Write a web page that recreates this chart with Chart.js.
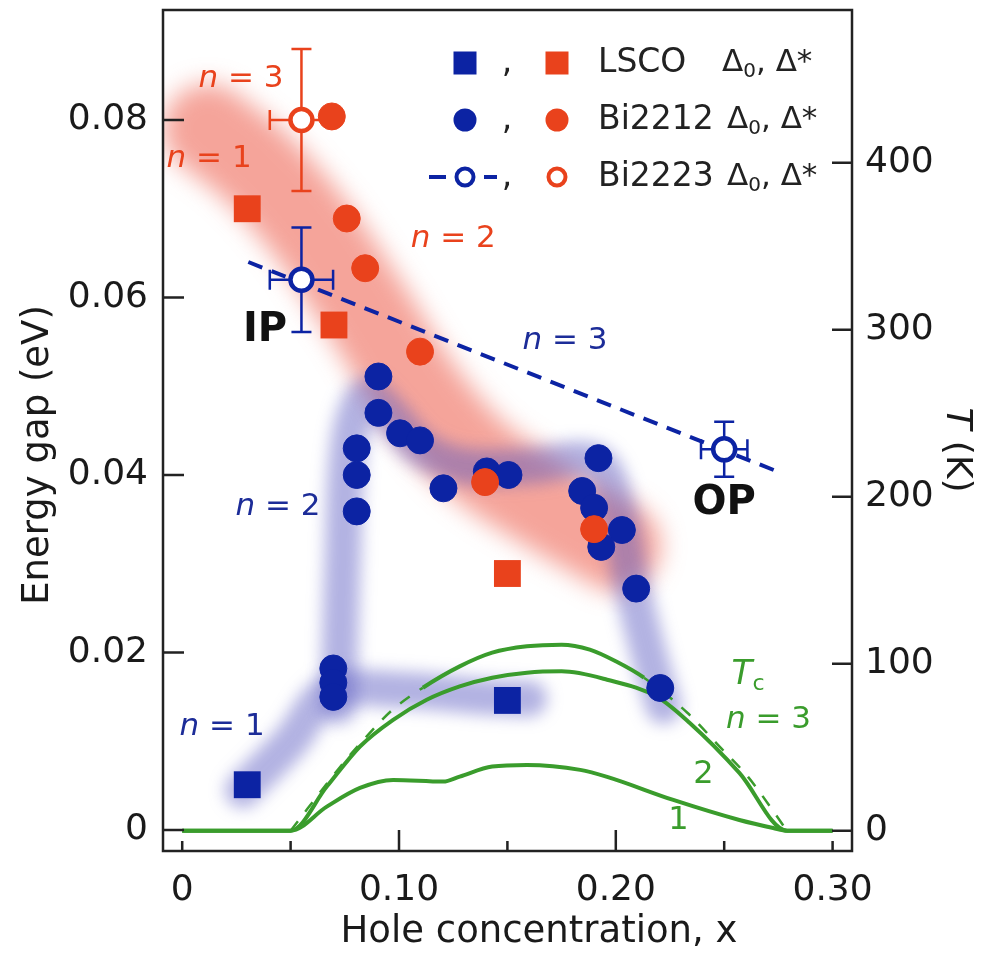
<!DOCTYPE html>
<html>
<head>
<meta charset="utf-8">
<title>Energy gap vs hole concentration</title>
<script src="https://cdn.jsdelivr.net/npm/chart.js@4.4.1/dist/chart.umd.min.js"></script>
<style>
  html, body { margin: 0; padding: 0; background: #fff; }
  #grafica { display: block; }
</style>
</head>
<body>
<canvas id="grafica" width="985" height="954"></canvas>
<script>
// --- Ticks ---
const xTicks = [0, 0.10, 0.20, 0.30];
const xMinorTicks = [0.05, 0.15, 0.25];
const gapTicks = [0, 0.02, 0.04, 0.06, 0.08];
const tempTicks = [0, 100, 200, 300, 400];

// --- LSCO (cuadrados) ---
const lscoGapX = [0.030, 0.150];
const lscoGapY = [0.0051, 0.0146];
const lscoStarX = [0.030, 0.070, 0.150];
const lscoStarY = [0.0700, 0.0569, 0.0289];

// --- Bi2212 (circulos llenos) ---
const bi2212GapX = [0.0697, 0.0697, 0.0697, 0.0805, 0.0805, 0.0805, 0.0905, 0.0905, 0.1005, 0.1097,
                    0.1205, 0.1405, 0.1505, 0.1845, 0.1900, 0.1920, 0.1933, 0.2028, 0.2094, 0.2205];
const bi2212GapY = [0.0182, 0.0166, 0.0150, 0.0430, 0.0400, 0.0359, 0.0511, 0.0470, 0.0447, 0.0439,
                    0.0385, 0.0404, 0.0400, 0.0382, 0.0363, 0.0419, 0.0319, 0.0338, 0.0272, 0.0160];
const bi2212StarX = [0.0690, 0.0759, 0.0844, 0.1097, 0.1397, 0.1900];
const bi2212StarY = [0.0804, 0.0689, 0.0633, 0.0539, 0.0392, 0.0339];

// --- Bi2223 (circulos abiertos, con error) ---
const bi2223GapX = [0.055, 0.250];
const bi2223GapY = [0.0620, 0.0429];
const bi2223GapErrX = [0.0146, 0.0107];
const bi2223GapErrY = [0.0059, 0.0031];
const bi2223StarX = [0.055];
const bi2223StarY = [0.0800];
const bi2223StarErrX = [0.0146];
const bi2223StarErrY = [0.0080];

// --- Tendencia Delta0, n = 3 (linea discontinua) ---
const trendX = [0.0305, 0.2745];
const trendY = [0.0640, 0.0404];

// --- Tc (K), eje derecho ---
const tc1X = [0, 0.050, 0.0667, 0.082, 0.0973, 0.1204, 0.128, 0.143, 0.159, 0.1836, 0.196, 0.2265, 0.257, 0.2726, 0.279, 0.300];
const tc1T = [0, 0, 14.4, 25.6, 30.4, 29.4, 32.4, 38.4, 39.4, 36.4, 32.2, 18.4, 6.4, 1.6, 0, 0];
const tc2X = [0, 0.050, 0.0667, 0.082, 0.0973, 0.1128, 0.128, 0.143, 0.159, 0.175, 0.196, 0.219, 0.234, 0.257, 0.279, 0.300];
const tc2T = [0, 0, 26.4, 50.4, 66.4, 78.4, 86.4, 91.6, 94.6, 95.4, 90.4, 80.2, 64.6, 34.6, 0, 0];
const tc3X = [0.050, 0.073, 0.085, 0.097, 0.111, 0.128, 0.143, 0.159, 0.175, 0.188, 0.200, 0.213, 0.233, 0.248, 0.261, 0.279];
const tc3T = [0, 38.4, 56.4, 72.4, 85.6, 98.4, 106.6, 110.4, 111.4, 108.4, 101.4, 91.6, 70.6, 50.2, 32.2, 0];

// --- Bandas difusas (guias) ---
const bandStarX = [0.012, 0.035, 0.060, 0.085, 0.110, 0.135, 0.165, 0.200];
const bandStarY = [0.0790, 0.0745, 0.0675, 0.0585, 0.0490, 0.0420, 0.0370, 0.0320];
const bandGap1X = [0.028, 0.050, 0.068, 0.100, 0.140, 0.160];
const bandGap1Y = [0.0045, 0.0100, 0.0155, 0.0158, 0.0150, 0.0148];
const bandGap2X = [0.072, 0.074, 0.077, 0.085, 0.095, 0.110, 0.130, 0.160, 0.190, 0.200, 0.207, 0.215, 0.222];
const bandGap2Y = [0.0140, 0.0300, 0.0440, 0.0490, 0.0470, 0.0430, 0.0410, 0.0410, 0.0415, 0.0370, 0.0280, 0.0200, 0.0140];

// Colores
const AZUL = '#0c23a3';
const ROJO = '#e9421c';
const VERDE = '#3a9c2c';
const FUENTE = '"DejaVu Sans"';

const pts = (xs, ys) => xs.map((x, i) => ({ x: x, y: ys[i] }));
const fmt = v => v === 0 ? '0' : v.toFixed(2);

// --- Texto con partes (cursiva, negrita, subindice) ---
function fontFor(st, size) {
    if (st === 'i') return `italic ${size}px ${FUENTE}`;
    if (st === 'b') return `bold ${size}px ${FUENTE}`;
    if (st === 's') return `${Math.round(size * 0.65)}px ${FUENTE}`;
    return `${size}px ${FUENTE}`;
}
function drawParts(ctx, parts, x, y, size, color, align) {
    ctx.save();
    ctx.fillStyle = color;
    ctx.textBaseline = 'middle';
    ctx.textAlign = 'left';
    let total = 0;
    const widths = parts.map(([t, st]) => {
        ctx.font = fontFor(st, size);
        const w = ctx.measureText(t).width;
        total += w;
        return w;
    });
    let cx = align === 'left' ? x : x - total / 2;
    parts.forEach(([t, st], i) => {
        ctx.font = fontFor(st, size);
        ctx.fillText(t, cx, st === 's' ? y + size * 0.28 : y);
        cx += widths[i];
    });
    ctx.restore();
}

// Etiquetas en coordenadas de datos: [partes, x, energia, tamano, color]
const etiquetas = [
    [[['n', 'i'], [' = 3', '']], 0.0271, 0.0846, 31, ROJO],
    [[['n', 'i'], [' = 1', '']], 0.0124, 0.0756, 31, ROJO],
    [[['n', 'i'], [' = 2', '']], 0.1250, 0.0666, 31, ROJO],
    [[['n', 'i'], [' = 3', '']], 0.1766, 0.0551, 31, '#1c2c98'],
    [[['n', 'i'], [' = 2', '']], 0.0442, 0.0364, 31, '#1c2c98'],
    [[['n', 'i'], [' = 1', '']], 0.0184, 0.0116, 31, '#1c2c98'],
    [[['IP', 'b']], 0.0382, 0.0563, 40, '#111'],
    [[['OP', 'b']], 0.2500, 0.0368, 40, '#111'],
    [[['T', 'i'], ['c', 's']], 0.2610, 0.0175, 34, VERDE],
    [[['n', 'i'], [' = 3', '']], 0.2704, 0.0124, 31, VERDE],
    [[['2', '']], 0.2404, 0.0062, 32, VERDE],
    [[['1', '']], 0.2289, 0.0011, 32, VERDE]
];

function dibujarErrores(chart, ds) {
    const ctx = chart.ctx;
    const sx = chart.scales.x, sy = chart.scales.y;
    ctx.save();
    ctx.strokeStyle = ds.borderColor;
    ctx.lineWidth = 2.5;
    ds.data.forEach((p, i) => {
        const px = sx.getPixelForValue(p.x), py = sy.getPixelForValue(p.y);
        const x0 = sx.getPixelForValue(p.x - ds.errX[i]), x1 = sx.getPixelForValue(p.x + ds.errX[i]);
        const y0 = sy.getPixelForValue(p.y + ds.errY[i]), y1 = sy.getPixelForValue(p.y - ds.errY[i]);
        ctx.beginPath();
        ctx.moveTo(x0, py); ctx.lineTo(x1, py);
        ctx.moveTo(x0, py - 10); ctx.lineTo(x0, py + 10);
        ctx.moveTo(x1, py - 10); ctx.lineTo(x1, py + 10);
        ctx.moveTo(px, y0); ctx.lineTo(px, y1);
        ctx.moveTo(px - 10, y0); ctx.lineTo(px + 10, y0);
        ctx.moveTo(px - 10, y1); ctx.lineTo(px + 10, y1);
        ctx.stroke();
    });
    ctx.restore();
}

function dibujarLeyenda(ctx) {
    const filas = [63, 120, 177];
    ctx.save();
    // fila 1: cuadrados
    ctx.fillStyle = AZUL; ctx.fillRect(465 - 11.5, filas[0] - 11.5, 23, 23);
    ctx.fillStyle = ROJO; ctx.fillRect(557 - 11.5, filas[0] - 11.5, 23, 23);
    // fila 2: circulos llenos
    ctx.fillStyle = AZUL; ctx.beginPath(); ctx.arc(465, filas[1], 11.5, 0, Math.PI * 2); ctx.fill();
    ctx.fillStyle = ROJO; ctx.beginPath(); ctx.arc(557, filas[1], 11.5, 0, Math.PI * 2); ctx.fill();
    // fila 3: abiertos
    ctx.lineWidth = 4;
    ctx.strokeStyle = AZUL;
    ctx.beginPath(); ctx.moveTo(429, filas[2]); ctx.lineTo(446, filas[2]);
    ctx.moveTo(484, filas[2]); ctx.lineTo(497, filas[2]); ctx.stroke();
    ctx.fillStyle = '#fff';
    ctx.beginPath(); ctx.arc(465, filas[2], 8.5, 0, Math.PI * 2); ctx.fill(); ctx.stroke();
    ctx.strokeStyle = ROJO;
    ctx.beginPath(); ctx.arc(557, filas[2], 8.5, 0, Math.PI * 2); ctx.fill(); ctx.stroke();
    ctx.restore();
    const nombres = ['LSCO', 'Bi2212', 'Bi2223'];
    const deltaX = [722, 727, 727];
    filas.forEach((y, i) => {
        drawParts(ctx, [[',', '']], 507, y, 33, '#222', 'center');
        drawParts(ctx, [[nombres[i], '']], 598, y, 33, '#222', 'left');
        drawParts(ctx, [['\u0394', ''], ['0', 's'], [', \u0394*', '']], deltaX[i], y, 31, '#222', 'left');
    });
}

const decor = {
    id: 'decor',
    beforeDatasetDraw(chart, args) {
        const ds = chart.data.datasets[args.index];
        if (ds.blur) {
            chart.ctx.save();
            chart.ctx.filter = `blur(${ds.blur}px)`;
        }
        if (ds.errX) dibujarErrores(chart, ds);
    },
    afterDatasetDraw(chart, args) {
        const ds = chart.data.datasets[args.index];
        if (ds.blur) chart.ctx.restore();
    },
    afterDraw(chart) {
        const ctx = chart.ctx;
        const a = chart.chartArea;
        const sx = chart.scales.x, sy = chart.scales.y, st = chart.scales.yT;
        ctx.save();
        ctx.strokeStyle = '#222';
        ctx.lineWidth = 2.5;
        ctx.strokeRect(a.left, a.top, a.right - a.left, a.bottom - a.top);
        // ticks hacia adentro
        ctx.beginPath();
        xTicks.forEach(v => { const p = sx.getPixelForValue(v); ctx.moveTo(p, a.bottom); ctx.lineTo(p, a.bottom - (v === 0 || v === 0.30 ? 10 : 21)); });
        xMinorTicks.forEach(v => { const p = sx.getPixelForValue(v); ctx.moveTo(p, a.bottom); ctx.lineTo(p, a.bottom - 10); });
        gapTicks.forEach(v => { const p = sy.getPixelForValue(v); ctx.moveTo(a.left, p); ctx.lineTo(a.left + 21, p); });
        tempTicks.forEach(v => { const p = st.getPixelForValue(v); ctx.moveTo(a.right, p); ctx.lineTo(a.right - 20, p); });
        ctx.stroke();
        ctx.restore();

        // titulos de ejes
        drawParts(ctx, [['Hole concentration, x', '']], 539, 932, 37, '#1a1a1a', 'center');
        ctx.save();
        ctx.translate(38, 455); ctx.rotate(-Math.PI / 2);
        drawParts(ctx, [['Energy gap (eV)', '']], 0, 0, 37, '#1a1a1a', 'center');
        ctx.restore();
        ctx.save();
        ctx.translate(956, 450); ctx.rotate(Math.PI / 2);
        drawParts(ctx, [['T', 'i'], [' (K)', '']], 0, 0, 36, '#1a1a1a', 'center');
        ctx.restore();

        etiquetas.forEach(([partes, x, e, size, color]) => {
            drawParts(ctx, partes, sx.getPixelForValue(x), sy.getPixelForValue(e), size, color, 'center');
        });
        dibujarLeyenda(ctx);
    }
};

const linea = (data, extra) => Object.assign({
    type: 'line', data: data, showLine: true, fill: false, pointRadius: 0, pointHoverRadius: 0
}, extra);

const banda = (data, color, ancho, blur, orden) => linea(data, {
    borderColor: color, borderWidth: ancho, tension: 0.35, borderCapStyle: 'round',
    borderJoinStyle: 'round', blur: blur, order: orden
});

const tcDash = ctx => (ctx.p1.parsed.x <= 0.1115 || ctx.p0.parsed.x >= 0.2125) ? [12, 12] : undefined;
const tcWidth = ctx => (ctx.p1.parsed.x <= 0.1115 || ctx.p0.parsed.x >= 0.2125) ? 2.5 : 4;

const datasets = [
    banda(pts(bandStarX, bandStarY), 'rgba(236, 80, 62, 0.52)', 90, 12, 30),
    banda(pts(bandGap1X, bandGap1Y), 'rgba(85, 85, 190, 0.45)', 36, 8, 29),
    banda(pts(bandGap2X, bandGap2Y), 'rgba(85, 85, 190, 0.45)', 36, 8, 29),
    linea(pts(tc1X, tc1T), { yAxisID: 'yT', borderColor: VERDE, borderWidth: 4, cubicInterpolationMode: 'monotone', order: 20 }),
    linea(pts(tc2X, tc2T), { yAxisID: 'yT', borderColor: VERDE, borderWidth: 4, cubicInterpolationMode: 'monotone', order: 20 }),
    linea(pts(tc3X, tc3T), { yAxisID: 'yT', borderColor: VERDE, borderWidth: 4, cubicInterpolationMode: 'monotone', order: 20,
        segment: { borderDash: tcDash, borderWidth: tcWidth } }),
    linea(pts(trendX, trendY), { borderColor: AZUL, borderWidth: 4, borderDash: [15, 10], order: 15 }),
    { type: 'scatter', data: pts(lscoGapX, lscoGapY), pointStyle: 'rect', pointRadius: 19, pointHoverRadius: 19,
      backgroundColor: AZUL, borderColor: AZUL, borderWidth: 0, order: 9 },
    { type: 'scatter', data: pts(bi2212GapX, bi2212GapY), pointStyle: 'circle', pointRadius: 13.5, pointHoverRadius: 13.5,
      backgroundColor: AZUL, borderColor: AZUL, borderWidth: 1, order: 8 },
    { type: 'scatter', data: pts(lscoStarX, lscoStarY), pointStyle: 'rect', pointRadius: 19, pointHoverRadius: 19,
      backgroundColor: ROJO, borderColor: ROJO, borderWidth: 0, order: 7 },
    { type: 'scatter', data: pts(bi2223GapX, bi2223GapY), pointStyle: 'circle', pointRadius: 11, pointHoverRadius: 11,
      backgroundColor: '#fff', borderColor: AZUL, borderWidth: 4.5, order: 6,
      errX: bi2223GapErrX, errY: bi2223GapErrY },
    { type: 'scatter', data: pts(bi2223StarX, bi2223StarY), pointStyle: 'circle', pointRadius: 11, pointHoverRadius: 11,
      backgroundColor: '#fff', borderColor: ROJO, borderWidth: 4.5, order: 6,
      errX: bi2223StarErrX, errY: bi2223StarErrY },
    { type: 'scatter', data: pts(bi2212StarX, bi2212StarY), pointStyle: 'circle', pointRadius: 13.5, pointHoverRadius: 13.5,
      backgroundColor: ROJO, borderColor: ROJO, borderWidth: 1, order: 3 }
];

const tickFont = { family: 'DejaVu Sans', size: 36 };
const tickFontV = { family: 'DejaVu Sans', size: 36, lineHeight: 0.4 };

const sinRelleno = s => { s.paddingTop = 0; s.paddingBottom = 0; s.paddingLeft = 0; s.paddingRight = 0; };

new Chart(document.getElementById('grafica').getContext('2d'), {
    type: 'scatter',
    data: { datasets: datasets },
    options: {
        responsive: false,
        animation: false,
        devicePixelRatio: 1,
        events: [],
        // sin relleno automatico: el area del grafico queda fija
        layout: { autoPadding: false, padding: { top: 10, left: 0, right: 0, bottom: 0 } },
        plugins: { legend: { display: false }, tooltip: { enabled: false } },
        scales: {
            x: {
                type: 'linear', position: 'bottom', min: -0.00886, max: 0.30895,
                grid: { display: false, drawTicks: false }, border: { display: false },
                ticks: { font: tickFont, color: '#1a1a1a', padding: 18, maxRotation: 0, autoSkip: false, callback: v => fmt(v) },
                afterBuildTicks: s => { s.ticks = xTicks.map(v => ({ value: v })); },
                afterFit: s => { s.height = 103; sinRelleno(s); }
            },
            y: {
                type: 'linear', position: 'left', min: -0.002366, max: 0.092394,
                grid: { display: false, drawTicks: false }, border: { display: false },
                ticks: { font: tickFontV, color: '#1a1a1a', padding: 15, callback: v => fmt(v) },
                afterBuildTicks: s => { s.ticks = gapTicks.map(v => ({ value: v })); },
                afterFit: s => { s.width = 163; sinRelleno(s); }
            },
            yT: {
                type: 'linear', position: 'right', min: -12.16, max: 491.4,
                grid: { display: false, drawTicks: false }, border: { display: false },
                ticks: { font: tickFontV, color: '#1a1a1a', padding: 13, callback: v => String(v) },
                afterBuildTicks: s => { s.ticks = tempTicks.map(v => ({ value: v })); },
                afterFit: s => { s.width = 133; sinRelleno(s); }
            }
        }
    },
    plugins: [decor]
});
</script>
</body>
</html>
